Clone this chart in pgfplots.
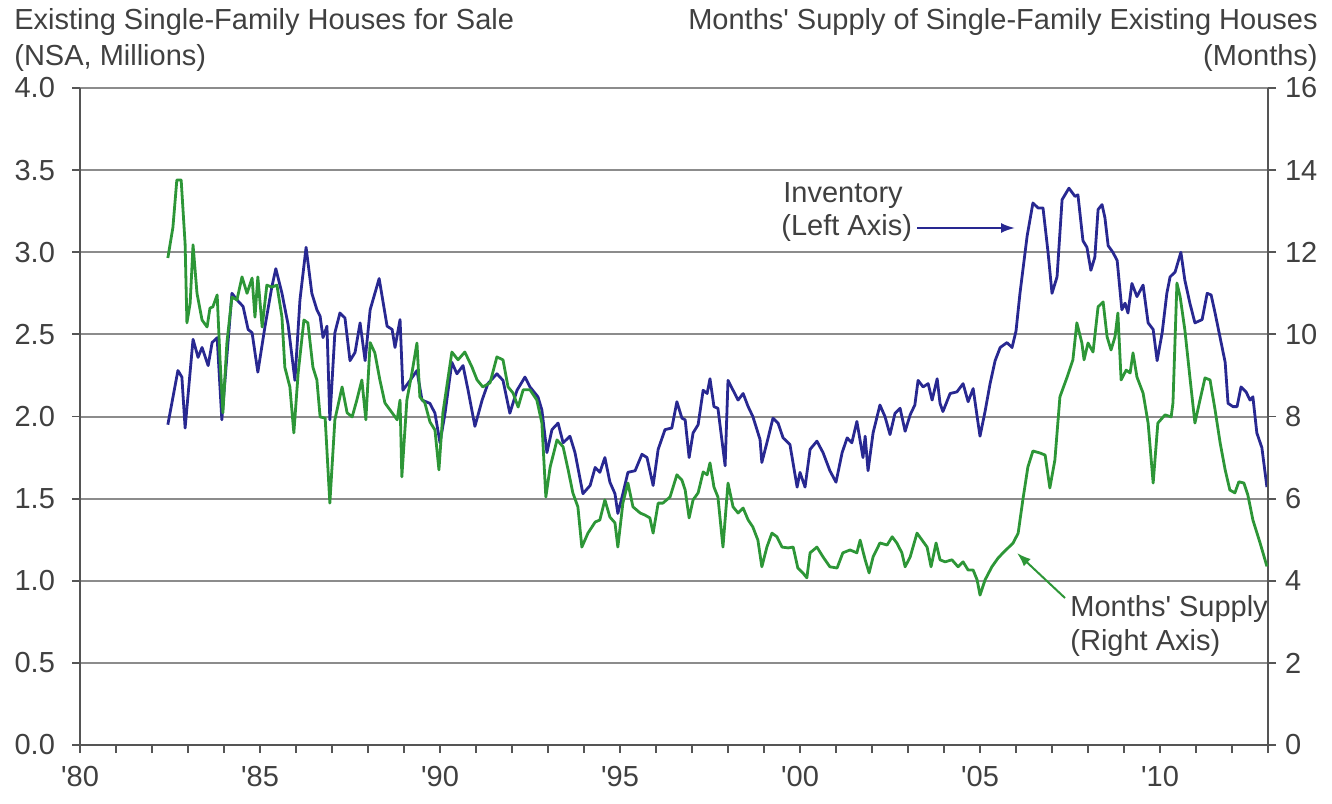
\documentclass[border=0pt]{standalone}
\usepackage{fontspec}
\setmainfont{Liberation Sans}
\usepackage{pgfplots}
\pgfplotsset{compat=1.18}
\usepackage{pgfplotstable}
\usetikzlibrary{arrows.meta}
\definecolor{invblue}{RGB}{40,40,145}
\definecolor{supgreen}{RGB}{45,150,55}
\definecolor{txtgray}{RGB}{64,64,64}
\definecolor{gridgray}{RGB}{140,140,140}
\definecolor{axgray}{RGB}{85,85,85}

\pgfplotstableread{
x y
1982.44 1.95
1982.72 2.28
1982.83 2.24
1982.92 1.93
1983.14 2.47
1983.28 2.36
1983.39 2.42
1983.56 2.31
1983.67 2.45
1983.81 2.48
1983.94 1.98
1984.22 2.75
1984.36 2.71
1984.53 2.67
1984.67 2.53
1984.78 2.51
1984.94 2.27
1985.14 2.55
1985.33 2.79
1985.44 2.90
1985.61 2.75
1985.78 2.56
1985.97 2.22
1986.11 2.71
1986.28 3.03
1986.44 2.75
1986.58 2.65
1986.67 2.61
1986.75 2.48
1986.86 2.55
1986.94 1.98
1987.08 2.51
1987.22 2.63
1987.36 2.60
1987.50 2.34
1987.64 2.39
1987.78 2.57
1987.92 2.34
1988.06 2.65
1988.31 2.84
1988.53 2.55
1988.67 2.53
1988.75 2.42
1988.89 2.59
1988.97 2.16
1989.17 2.22
1989.36 2.28
1989.50 2.10
1989.72 2.08
1989.86 2.02
1990.00 1.84
1990.14 2.02
1990.33 2.33
1990.47 2.26
1990.64 2.31
1990.78 2.16
1990.97 1.94
1991.17 2.10
1991.33 2.20
1991.58 2.26
1991.75 2.22
1991.94 2.02
1992.14 2.16
1992.36 2.24
1992.50 2.18
1992.72 2.12
1992.83 2.04
1992.97 1.78
1993.11 1.92
1993.28 1.96
1993.42 1.84
1993.61 1.88
1993.75 1.78
1993.97 1.53
1994.17 1.58
1994.31 1.69
1994.44 1.66
1994.58 1.75
1994.72 1.60
1994.86 1.53
1994.94 1.41
1995.08 1.53
1995.22 1.66
1995.42 1.67
1995.61 1.77
1995.75 1.75
1995.92 1.58
1996.06 1.80
1996.25 1.92
1996.44 1.93
1996.58 2.09
1996.72 1.99
1996.81 1.98
1996.92 1.75
1997.03 1.90
1997.17 1.95
1997.31 2.16
1997.42 2.14
1997.50 2.23
1997.61 2.06
1997.72 2.05
1997.92 1.70
1998.00 2.22
1998.14 2.16
1998.28 2.10
1998.42 2.14
1998.56 2.06
1998.69 2.00
1998.89 1.86
1998.94 1.72
1999.08 1.84
1999.25 1.99
1999.39 1.96
1999.53 1.87
1999.72 1.83
1999.92 1.57
2000.00 1.66
2000.14 1.57
2000.28 1.80
2000.47 1.85
2000.64 1.78
2000.83 1.67
2001.00 1.60
2001.17 1.78
2001.31 1.87
2001.44 1.84
2001.58 1.97
2001.75 1.75
2001.81 1.88
2001.89 1.67
2002.03 1.90
2002.22 2.07
2002.36 2.00
2002.50 1.89
2002.64 2.02
2002.78 2.05
2002.92 1.91
2003.06 2.01
2003.19 2.07
2003.28 2.22
2003.42 2.18
2003.56 2.20
2003.67 2.10
2003.81 2.23
2003.89 2.08
2003.97 2.03
2004.17 2.14
2004.36 2.15
2004.53 2.20
2004.67 2.09
2004.81 2.17
2004.92 2.00
2005.00 1.88
2005.14 2.03
2005.28 2.20
2005.42 2.34
2005.56 2.42
2005.75 2.45
2005.89 2.42
2006.00 2.52
2006.11 2.75
2006.31 3.10
2006.47 3.30
2006.61 3.27
2006.75 3.27
2006.89 3.00
2007.00 2.75
2007.14 2.85
2007.28 3.32
2007.47 3.39
2007.64 3.34
2007.72 3.35
2007.86 3.07
2007.97 3.03
2008.08 2.89
2008.19 2.97
2008.28 3.26
2008.39 3.29
2008.47 3.21
2008.56 3.04
2008.69 3.00
2008.81 2.95
2008.94 2.65
2009.03 2.69
2009.11 2.63
2009.22 2.81
2009.36 2.73
2009.53 2.80
2009.67 2.57
2009.81 2.53
2009.92 2.34
2010.06 2.51
2010.19 2.75
2010.28 2.85
2010.42 2.88
2010.58 3.00
2010.69 2.83
2010.83 2.69
2010.97 2.57
2011.17 2.59
2011.31 2.75
2011.42 2.74
2011.53 2.63
2011.67 2.48
2011.81 2.33
2011.89 2.08
2012.03 2.06
2012.14 2.06
2012.25 2.18
2012.39 2.15
2012.50 2.10
2012.58 2.12
2012.69 1.90
2012.83 1.81
2012.97 1.57
}\invtable

\pgfplotstableread{
x y
1982.44 11.86
1982.58 12.6
1982.69 13.76
1982.81 13.76
1982.92 12.2
1982.97 10.28
1983.06 10.76
1983.14 12.18
1983.25 11.0
1983.39 10.35
1983.53 10.18
1983.61 10.64
1983.69 10.67
1983.81 10.96
1983.89 9.38
1983.97 8.09
1984.08 9.79
1984.22 10.91
1984.36 10.84
1984.50 11.4
1984.64 11.0
1984.78 11.37
1984.86 10.42
1984.94 11.4
1985.06 10.18
1985.19 11.2
1985.33 11.15
1985.47 11.2
1985.61 10.42
1985.69 9.2
1985.83 8.72
1985.94 7.6
1986.06 9.06
1986.22 10.35
1986.33 10.28
1986.47 9.2
1986.58 8.89
1986.67 7.99
1986.81 7.96
1986.94 5.89
1987.08 7.92
1987.28 8.72
1987.42 8.09
1987.56 7.99
1987.69 8.4
1987.83 8.89
1987.94 7.92
1988.06 9.8
1988.19 9.55
1988.33 8.89
1988.47 8.33
1988.67 8.09
1988.81 7.92
1988.89 8.4
1988.94 6.53
1989.08 8.4
1989.22 9.06
1989.36 9.79
1989.44 8.48
1989.58 8.33
1989.72 7.87
1989.86 7.67
1989.97 6.70
1990.08 8.09
1990.33 9.57
1990.50 9.38
1990.69 9.57
1990.89 9.2
1991.03 8.89
1991.19 8.72
1991.39 8.82
1991.58 9.45
1991.75 9.38
1991.89 8.72
1992.03 8.57
1992.17 8.23
1992.31 8.65
1992.50 8.65
1992.69 8.4
1992.83 7.84
1992.94 6.04
1993.06 6.77
1993.25 7.43
1993.42 7.26
1993.56 6.70
1993.69 6.14
1993.83 5.80
1993.94 4.82
1994.11 5.16
1994.31 5.43
1994.44 5.48
1994.58 5.97
1994.72 5.55
1994.86 5.41
1994.94 4.82
1995.08 5.89
1995.22 6.38
1995.36 5.80
1995.56 5.65
1995.69 5.60
1995.83 5.53
1995.92 5.16
1996.06 5.89
1996.19 5.89
1996.39 6.04
1996.58 6.58
1996.72 6.45
1996.81 6.21
1996.92 5.53
1997.03 5.97
1997.17 6.14
1997.31 6.65
1997.42 6.58
1997.50 6.87
1997.61 6.28
1997.72 6.04
1997.86 4.82
1998.00 6.38
1998.14 5.80
1998.28 5.65
1998.42 5.77
1998.56 5.48
1998.69 5.31
1998.83 4.99
1998.94 4.34
1999.08 4.82
1999.22 5.16
1999.36 5.07
1999.50 4.82
1999.67 4.80
1999.81 4.82
1999.94 4.31
2000.08 4.19
2000.19 4.07
2000.28 4.68
2000.47 4.82
2000.64 4.58
2000.83 4.34
2001.03 4.31
2001.19 4.68
2001.39 4.75
2001.58 4.68
2001.67 4.99
2001.81 4.51
2001.92 4.19
2002.03 4.58
2002.22 4.92
2002.42 4.87
2002.56 5.07
2002.69 4.92
2002.83 4.68
2002.92 4.34
2003.06 4.58
2003.25 5.16
2003.39 4.99
2003.53 4.82
2003.64 4.34
2003.78 4.92
2003.89 4.51
2004.03 4.46
2004.22 4.51
2004.39 4.34
2004.53 4.46
2004.67 4.26
2004.81 4.26
2004.92 4.02
2005.00 3.65
2005.14 4.02
2005.33 4.34
2005.50 4.55
2005.64 4.68
2005.78 4.80
2005.92 4.92
2006.06 5.16
2006.19 5.97
2006.33 6.77
2006.47 7.16
2006.67 7.11
2006.81 7.06
2006.94 6.26
2007.08 6.94
2007.22 8.48
2007.42 8.96
2007.58 9.38
2007.69 10.28
2007.83 9.79
2007.89 9.38
2008.00 9.79
2008.14 9.57
2008.28 10.67
2008.42 10.79
2008.53 9.94
2008.64 9.62
2008.75 9.94
2008.83 10.52
2008.92 8.89
2009.06 9.13
2009.17 9.06
2009.25 9.55
2009.36 8.96
2009.53 8.57
2009.67 7.84
2009.81 6.38
2009.94 7.84
2010.14 8.04
2010.31 7.99
2010.36 8.33
2010.47 11.25
2010.56 10.91
2010.69 10.11
2010.83 8.96
2010.97 7.84
2011.11 8.4
2011.25 8.94
2011.39 8.89
2011.53 8.16
2011.67 7.36
2011.81 6.70
2011.94 6.21
2012.08 6.14
2012.19 6.41
2012.33 6.38
2012.44 6.09
2012.58 5.48
2012.78 4.92
2012.97 4.35
}\suptable

\newcommand{\lblfont}{\fontsize{14.5}{17}\selectfont}

\begin{document}
\begin{tikzpicture}
\pgfplotsset{
  common/.style={
    scale only axis, width=594pt, height=328.5pt,
    xmin=1980, xmax=2013,
    tick align=outside,
    major tick length=4pt, minor tick length=4pt,
    tick style={axgray, line width=0.9pt},
    axis line style={axgray, line width=1.1pt},
    every tick label/.append style={font=\lblfont, text=txtgray},
    /pgf/number format/assume math mode=true,
    clip=false,
  }
}
\begin{axis}[common,
  ymin=0, ymax=4,
  axis x line*=bottom, axis y line*=left,
  xtick={1980,1985,1990,1995,2000,2005,2010},
  xticklabels={\textquotesingle80,\textquotesingle85,\textquotesingle90,\textquotesingle95,\textquotesingle00,\textquotesingle05,\textquotesingle10},
  xticklabel style={yshift=-3pt},
  minor xtick={1981,1982,1983,1984,1986,1987,1988,1989,1991,1992,1993,1994,1996,1997,1998,1999,2001,2002,2003,2004,2006,2007,2008,2009,2011,2012,2013},
  ytick={0,0.5,1,1.5,2,2.5,3,3.5,4},
  yticklabel style={xshift=-5pt, /pgf/number format/.cd, fixed, fixed zerofill, precision=1},
  ymajorgrids, grid style={gridgray, line width=1pt},
]
\addplot[invblue, line width=1.4pt, line join=round] table {\invtable};
\end{axis}
\begin{axis}[common,
  ymin=0, ymax=16,
  axis x line=none, axis y line*=right,
  ytick={0,2,4,6,8,10,12,14,16},
  yticklabel style={anchor=west, xshift=1pt},
]
\addplot[supgreen, line width=1.4pt, line join=round] table {\suptable};
\end{axis}

% titles
\node[anchor=base west, font=\lblfont, text=txtgray, inner sep=0pt] at (-33pt,357.5pt) {Existing Single-Family Houses for Sale};
\node[anchor=base west, font=\lblfont, text=txtgray, inner sep=0pt] at (-33pt,339.5pt) {(NSA, Millions)};
\node[anchor=base east, font=\lblfont, text=txtgray, inner sep=0pt] at (619pt,357.5pt) {Months\textquotesingle{} Supply of Single-Family Existing Houses};
\node[anchor=base east, font=\lblfont, text=txtgray, inner sep=0pt] at (619pt,339.5pt) {(Months)};

% annotations
\node[anchor=base west, font=\lblfont, text=txtgray, inner sep=0pt] at (351.5pt,271pt) {Inventory};
\node[anchor=base west, font=\lblfont, text=txtgray, inner sep=0pt] at (350.5pt,254.5pt) {(Left Axis)};
\draw[invblue, line width=1pt, -{Latex[length=7pt,width=5pt]}] (418.5pt,258.5pt) -- (467.5pt,258.5pt);
\node[anchor=base west, font=\lblfont, text=txtgray, inner sep=0pt] at (495pt,64pt) {Months\textquotesingle{} Supply};
\node[anchor=base west, font=\lblfont, text=txtgray, inner sep=0pt] at (495pt,47.5pt) {(Right Axis)};
\draw[supgreen, line width=1pt, -{Latex[length=7pt,width=5pt]}] (492.5pt,73.5pt) -- (468.5pt,96pt);

\path[use as bounding box] (-40pt,-29pt) rectangle (626pt,372.5pt);
\end{tikzpicture}
\end{document}
